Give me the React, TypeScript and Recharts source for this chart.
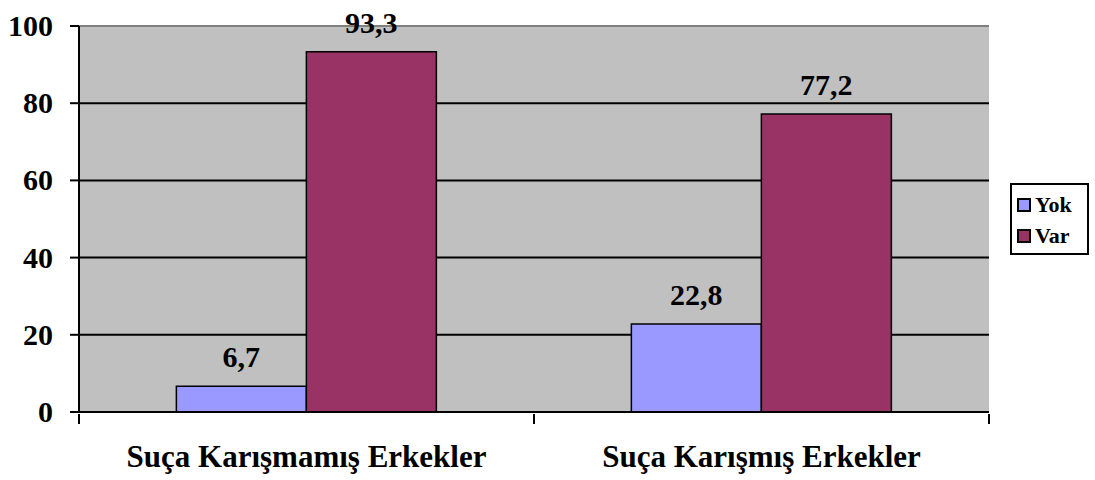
import {
  BarChart,
  Bar,
  XAxis,
  YAxis,
  CartesianGrid,
  Legend,
  LabelList,
  ReferenceLine,
} from "recharts";

const categories = ["Suça Karışmamış Erkekler", "Suça Karışmış Erkekler"];
const yok = [6.7, 22.8];
const varValues = [93.3, 77.2];
const yTicks = [0, 20, 40, 60, 80, 100];

const data = categories.map((name, i) => ({
  name,
  Yok: yok[i],
  Var: varValues[i],
}));

const FONT = '"Liberation Serif", "Times New Roman", Times, serif';
const PLOT_LEFT = 79;
const PLOT_RIGHT = 989;
const HALF_BAND = (PLOT_RIGHT - PLOT_LEFT) / categories.length / 2;

const fmt = (v: any) => String(v).replace(".", ",");

const XTick = (props: any) => {
  const { x, y, payload, index } = props;
  return (
    <g>
      <line
        x1={x - HALF_BAND}
        x2={x - HALF_BAND}
        y1={y - 6}
        y2={y + 4}
        stroke="#000"
        strokeWidth={2}
      />
      {index === categories.length - 1 && (
        <line
          x1={x + HALF_BAND}
          x2={x + HALF_BAND}
          y1={y - 6}
          y2={y + 4}
          stroke="#000"
          strokeWidth={2}
        />
      )}
      <text
        x={x}
        y={y + 47}
        textAnchor="middle"
        fontFamily={FONT}
        fontWeight="bold"
        fontSize={31}
        fill="#000"
      >
        {payload.value}
      </text>
    </g>
  );
};

const YTick = (props: any) => {
  const { x, y, payload } = props;
  return (
    <text
      x={x - 15}
      y={y + 10}
      textAnchor="end"
      fontFamily={FONT}
      fontWeight="bold"
      fontSize={30}
      fill="#000"
    >
      {payload.value}
    </text>
  );
};

const LegendBox = () => (
  <div
    style={{
      boxSizing: "border-box",
      width: 79,
      height: 72,
      border: "2px solid #000",
      padding: "4px 0 0 5px",
      fontFamily: FONT,
      fontWeight: "bold",
      fontSize: 22,
      background: "#fff",
      lineHeight: 1,
    }}
  >
    {[
      { name: "Yok", color: "#9999FF" },
      { name: "Var", color: "#993366" },
    ].map((e) => (
      <div
        key={e.name}
        style={{ display: "flex", alignItems: "center", height: 31 }}
      >
        <span
          style={{
            display: "inline-block",
            width: 10,
            height: 10,
            background: e.color,
            border: "2px solid #000",
            marginRight: 4,
          }}
        />
        {e.name}
      </div>
    ))}
  </div>
);

const labelProps = {
  position: "top" as const,
  offset: 19,
  formatter: fmt,
  fill: "#000",
  fontFamily: FONT,
  fontWeight: "bold",
  fontSize: 30,
};

export default function App() {
  return (
    <div style={{ position: "absolute", left: 0, top: 0 }}>
      <BarChart
        width={1095}
        height={480}
        data={data}
        margin={{ top: 26, right: 1095 - PLOT_RIGHT, left: 0, bottom: 0 }}
        barCategoryGap="21.4%"
        barGap={0}
      >
        <CartesianGrid
          fill="#C0C0C0"
          stroke="#000"
          strokeWidth={2}
          vertical={false}
          fillOpacity={1}
        />
        <ReferenceLine y={100} stroke="#808080" strokeWidth={2} />
        <XAxis
          dataKey="name"
          height={68}
          tickLine={false}
          axisLine={{ stroke: "#000", strokeWidth: 2 }}
          tick={<XTick />}
          interval={0}
        />
        <YAxis
          width={PLOT_LEFT}
          domain={[0, 100]}
          ticks={yTicks}
          tickSize={9}
          tickLine={{ stroke: "#000", strokeWidth: 2 }}
          axisLine={{ stroke: "#000", strokeWidth: 2 }}
          tick={<YTick />}
        />
        <Legend
          layout="horizontal"
          align="center"
          verticalAlign="middle"
          wrapperStyle={{ left: 1010, top: 183, width: 79 }}
          content={<LegendBox />}
        />
        <Bar
          dataKey="Yok"
          fill="#9999FF"
          stroke="#000"
          strokeWidth={1.5}
          isAnimationActive={false}
        >
          <LabelList dataKey="Yok" {...labelProps} />
        </Bar>
        <Bar
          dataKey="Var"
          fill="#993366"
          stroke="#000"
          strokeWidth={1.5}
          isAnimationActive={false}
        >
          <LabelList dataKey="Var" {...labelProps} />
        </Bar>
      </BarChart>
    </div>
  );
}
